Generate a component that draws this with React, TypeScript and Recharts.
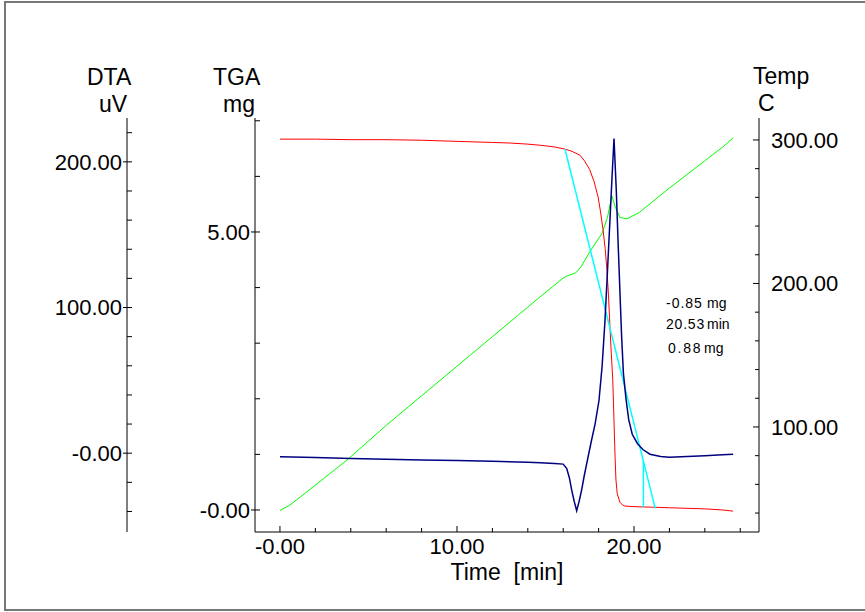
import { LineChart, Line, XAxis, YAxis, Customized } from 'recharts';

// TGA (mg) vs time
const tgaTime = [0, 2, 4, 6, 8, 10, 12, 13, 14, 14.7, 15.5, 16.1, 16.5, 16.95, 17.2, 17.5, 17.75, 17.97, 18.1, 18.25, 18.37, 18.47, 18.56, 18.64, 18.72, 18.8, 18.87, 18.93, 18.98, 19.05, 19.2, 19.35, 19.5, 20, 21, 22, 23, 24, 25, 25.6];
const tgaMass = [6.67, 6.67, 6.66, 6.66, 6.65, 6.63, 6.61, 6.6, 6.58, 6.56, 6.53, 6.49, 6.45, 6.38, 6.28, 6.12, 5.9, 5.63, 5.38, 5.04, 4.7, 4.32, 3.85, 3.29, 2.8, 2.34, 1.6, 0.95, 0.54, 0.3, 0.14, 0.09, 0.07, 0.06, 0.05, 0.04, 0.03, 0.02, 0.0, -0.02];

// DTA (uV) vs time
const dtaTime = [0, 2, 4, 6, 8, 10, 12, 14, 14.7, 15.5, 16.0, 16.2, 16.35, 16.48, 16.62, 16.76, 16.9, 17.04, 17.18, 17.33, 17.6, 17.8, 18.02, 18.2, 18.36, 18.5, 18.64, 18.76, 18.87, 19.0, 19.1, 19.21, 19.3, 19.4, 19.55, 19.7, 19.9, 20.2, 20.5, 20.9, 21.5, 22, 23, 24, 25, 25.6];
const dtaSignal = [-2.5, -3.0, -3.6, -4.1, -4.6, -5.1, -5.6, -6.2, -6.6, -7.0, -7.5, -10.5, -17, -25.3, -33, -39.5, -33, -25.3, -16, -7, 8.9, 20, 36, 60, 91, 125, 160, 190, 216, 180, 145, 109, 80, 55, 37, 23, 13, 6.5, 2.5, -0.7, -2.3, -2.7, -2.3, -1.7, -1.1, -0.8];

// Temperature (C) vs time
const tempTime = [0, 0.56, 1.3, 2, 3.2, 3.84, 6.03, 8, 10, 12, 14, 14.69, 16, 16.2, 16.5, 16.7, 17.0, 17.5, 18.2, 18.5, 18.75, 18.95, 19.2, 19.6, 20.3, 21, 22, 23, 24, 25, 25.6];
const tempValue = [41.7, 45.6, 52.6, 59.5, 71.2, 77.5, 101.4, 121.7, 142.3, 162.9, 183.5, 190.6, 203.8, 205.2, 206.5, 207.3, 211.5, 222, 235, 246, 261, 253, 246, 245, 249.5, 256.5, 266.5, 276, 285.5, 295, 301.5];

// onset construction (mg)
const tangentTime = [16.1, 21.2];
const tangentMass = [6.49, 0.03];
const onsetTime = [20.53, 20.53];
const onsetMass = [0.88, 0.05];

const timeTicks = [0, 2, 4, 6, 8, 10, 12, 14, 16, 18, 20, 22, 24, 26];
const timeMajor = [0, 10, 20];
const dtaTicks = [-40, -20, 0, 20, 40, 60, 80, 100, 120, 140, 160, 180, 200, 220];
const dtaMajor = [0, 100, 200];
const tgaTicks = [0, 1, 2, 3, 4, 5, 6, 7];
const tgaMajor = [0, 5];
const tempTicks = [40, 60, 80, 100, 120, 140, 160, 180, 200, 220, 240, 260, 280, 300];
const tempMajor = [100, 200, 300];

const FONT = '"Liberation Sans", Arial, sans-serif';

const toPoints = (xs: number[], ys: number[]) => xs.map((t, i) => ({ t, v: ys[i] }));
const fmt = (v: number) => (v === 0 ? '-0.00' : v.toFixed(2));

const makeLeftTick = (majors: number[]) => (props: any) => {
  const { x, y, payload } = props;
  const major = majors.includes(payload.value);
  return (
    <g>
      <line x1={major ? x - 4 : x} x2={x + 5} y1={y} y2={y} stroke="#000" />
      {major && (
        <text x={x - 5} y={y} dy="0.36em" textAnchor="end" fontSize={22} fontFamily={FONT} fill="#000">
          {fmt(payload.value)}
        </text>
      )}
    </g>
  );
};

const makeRightTick = (majors: number[]) => (props: any) => {
  const { x, y, payload } = props;
  const major = majors.includes(payload.value);
  return (
    <g>
      <line x1={x - (major ? 6 : 4)} x2={x} y1={y} y2={y} stroke="#000" />
      {major && (
        <text x={x + 12} y={y} dy="0.36em" textAnchor="start" fontSize={22} fontFamily={FONT} fill="#000">
          {fmt(payload.value)}
        </text>
      )}
    </g>
  );
};

const makeBottomTick = (majors: number[]) => (props: any) => {
  const { x, y, payload } = props;
  const major = majors.includes(payload.value);
  return (
    <g>
      <line x1={x} x2={x} y1={y - (major ? 6 : 4)} y2={y} stroke="#000" />
      {major && (
        <text x={x} y={y + 22} textAnchor="middle" fontSize={22} fontFamily={FONT} fill="#000">
          {fmt(payload.value)}
        </text>
      )}
    </g>
  );
};

const Overlay = () => (
  <g fontFamily={FONT} fill="#000">
    <path d="M 870 2 L 5 2 L 5 610 L 870 610" fill="none" stroke="#777" strokeWidth={2} />
    <text x={87} y={85} fontSize={23}>DTA</text>
    <text x={99} y={112} fontSize={23}>uV</text>
    <text x={213} y={85} fontSize={23}>TGA</text>
    <text x={223} y={112} fontSize={23}>mg</text>
    <text x={753} y={84} fontSize={23}>Temp</text>
    <text x={758} y={111} fontSize={23}>C</text>
    <text x={507} y={580} fontSize={23} textAnchor="middle" style={{ whiteSpace: 'pre' }}>Time  [min]</text>
    <g fontSize={14}>
      <text x={666} y={308} letterSpacing={1}>-0.85</text>
      <text x={707} y={308}>mg</text>
      <text x={666} y={329} letterSpacing={0.8}>20.53</text>
      <text x={707} y={329}>min</text>
      <text x={668} y={353} letterSpacing={1.8}>0.88</text>
      <text x={704} y={353}>mg</text>
    </g>
  </g>
);

export default function App() {
  return (
    <div style={{ position: 'absolute', left: 0, top: 0, width: 865, height: 612, background: '#fff' }}>
      <LineChart width={865} height={612} margin={{ top: 118, right: 16, bottom: 20, left: 57 }}>
        <XAxis
          dataKey="t"
          type="number"
          domain={[-1.41, 27.06]}
          allowDataOverflow
          ticks={timeTicks}
          interval={0}
          height={60}
          tickSize={0}
          tickMargin={0}
          tickLine={false}
          axisLine={{ stroke: '#000' }}
          tick={makeBottomTick(timeMajor)}
        />
        <XAxis
          xAxisId="top"
          orientation="top"
          dataKey="t"
          type="number"
          domain={[-1.41, 27.06]}
          height={0}
          tick={false}
          tickLine={false}
          axisLine={{ stroke: '#000080' }}
        />
        <YAxis
          yAxisId="y2dta"
          type="number"
          domain={[-54.1, 230.1]}
          allowDataOverflow
          ticks={dtaTicks}
          interval={0}
          width={70}
          tickSize={0}
          tickMargin={0}
          tickLine={false}
          axisLine={{ stroke: '#000' }}
          tick={makeLeftTick(dtaMajor)}
        />
        <YAxis
          yAxisId="y1tga"
          type="number"
          domain={[-0.396, 7.05]}
          allowDataOverflow
          ticks={tgaTicks}
          interval={0}
          width={128}
          tickSize={0}
          tickMargin={0}
          tickLine={false}
          axisLine={{ stroke: '#000' }}
          tick={makeLeftTick(tgaMajor)}
        />
        <YAxis
          yAxisId="temp"
          orientation="right"
          type="number"
          domain={[26.8, 315.3]}
          allowDataOverflow
          ticks={tempTicks}
          interval={0}
          width={90}
          tickSize={0}
          tickMargin={0}
          tickLine={false}
          axisLine={{ stroke: '#000' }}
          tick={makeRightTick(tempMajor)}
        />
        <Line yAxisId="temp" data={toPoints(tempTime, tempValue)} dataKey="v" type="linear" stroke="#00ff00" strokeWidth={1} dot={false} isAnimationActive={false} />
        <Line yAxisId="y1tga" data={toPoints(tgaTime, tgaMass)} dataKey="v" type="linear" stroke="#ff0000" strokeWidth={1} dot={false} isAnimationActive={false} />
        <Line yAxisId="y1tga" data={toPoints(tangentTime, tangentMass)} dataKey="v" type="linear" stroke="#00ffff" strokeWidth={1.5} dot={false} isAnimationActive={false} />
        <Line yAxisId="y1tga" data={toPoints(onsetTime, onsetMass)} dataKey="v" type="linear" stroke="#00ffff" strokeWidth={1.5} dot={false} isAnimationActive={false} />
        <Line yAxisId="y2dta" data={toPoints(dtaTime, dtaSignal)} dataKey="v" type="linear" stroke="#000080" strokeWidth={1.5} dot={false} isAnimationActive={false} />
        <Customized component={<Overlay />} />
      </LineChart>
    </div>
  );
}
